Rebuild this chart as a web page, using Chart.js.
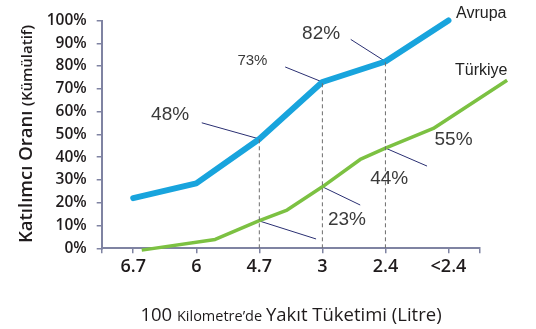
<!DOCTYPE html>
<html>
<head>
<meta charset="utf-8">
<script src="https://cdn.jsdelivr.net/npm/chart.js@4.4.0/dist/chart.umd.min.js"></script>
<style>
  html, body { margin: 0; padding: 0; background: #fff; }
  #wrap { width: 536px; height: 329px; }
</style>
</head>
<body>
<div id="wrap"><canvas id="myChart"></canvas></div>
<script>
// fuel use categories (litres per 100 km), left to right
const fuelLabels = ["6.7", "6", "4.7", "3", "2.4", "<2.4"];

// Avrupa: one point per category
const europeX = [0, 1, 2, 3, 4, 5];
const europeValues = [22, 28.5, 48, 73, 82, 100];

// Türkiye: sampled between categories
const turkeyX = [0.135, 1.3, 1.99, 2.44, 3.0, 3.6, 4.0, 4.76, 5.93];
const turkeyValues = [-0.8, 3.9, 12, 16.8, 27, 39, 44, 52.6, 73.8];

// dashed drop lines under these Avrupa points
const dropIndex = [2, 3, 4];

// callout texts and where they sit (x in category units, y in %)
const calloutTexts = ["48%", "73%", "82%", "55%", "44%", "23%"];
const calloutX = [0.585, 1.89, 2.98, 5.08, 4.06, 3.39];
const calloutY = [58.5, 82.1, 94.3, 47.5, 30.7, 12.4];
const calloutSize = [19, 15, 19, 19, 19, 19];

// leader lines from a callout to its point
const leaderX1 = [1.087, 2.41, 3.45, 4.0, 3.0, 2.0];
const leaderY1 = [55.1, 79.6, 91.7, 44, 27, 12];
const leaderX2 = [2.0, 3.0, 4.0, 4.66, 3.6, 2.9];
const leaderY2 = [48, 73, 82, 36.1, 19.0, 4.1];

const seriesNames = ["Avrupa", "Türkiye"];
const seriesNameX = [5.52, 5.52];
const seriesNameY = [103.1, 77.9];

const FONT = "'Open Sans', 'Noto Sans', sans-serif";
const LABEL_FONT = "'Liberation Sans', Arial, sans-serif";
const AXIS = "#7f83a2";
const INK = "#1f1b1c";

const toPoints = (xs, ys) => xs.map((v, i) => ({ x: v, y: ys[i] }));

const datasets = [];

dropIndex.forEach((i) => {
  datasets.push({
    data: [{ x: europeX[i], y: 0 }, { x: europeX[i], y: europeValues[i] }],
    borderColor: "#6d6d6d",
    borderWidth: 1,
    borderDash: [4, 3],
    pointRadius: 0,
  });
});

datasets.push({
  label: "Türkiye",
  data: toPoints(turkeyX, turkeyValues),
  borderColor: "#7cc142",
  borderWidth: 3.5,
  pointRadius: 0,
  borderJoinStyle: "round",
  clip: false,
});

datasets.push({
  label: "Avrupa",
  data: toPoints(europeX, europeValues),
  borderColor: "#18a4dd",
  borderWidth: 6,
  pointRadius: 0,
  borderJoinStyle: "round",
  borderCapStyle: "round",
  clip: false,
});

leaderX1.forEach((x1, i) => {
  datasets.push({
    data: [{ x: x1, y: leaderY1[i] }, { x: leaderX2[i], y: leaderY2[i] }],
    borderColor: "#2a2f72",
    borderWidth: 1,
    pointRadius: 0,
    clip: false,
  });
});

const textLayer = {
  id: "textLayer",
  afterDatasetsDraw(chart) {
    const { ctx, scales } = chart;
    const x = scales.x;
    const y = scales.y;
    ctx.save();
    ctx.textAlign = "center";
    ctx.textBaseline = "middle";

    // callout values
    ctx.fillStyle = "#3a3a3a";
    calloutTexts.forEach((t, i) => {
      ctx.font = `${calloutSize[i]}px ${LABEL_FONT}`;
      ctx.fillText(t, x.getPixelForValue(calloutX[i]), y.getPixelForValue(calloutY[i]));
    });

    // series names
    ctx.fillStyle = "#222";
    ctx.font = `16px ${LABEL_FONT}`;
    seriesNames.forEach((t, i) => {
      ctx.fillText(t, x.getPixelForValue(seriesNameX[i]), y.getPixelForValue(seriesNameY[i]));
    });

    // y title, two sizes
    ctx.save();
    ctx.translate(25, 134);
    ctx.rotate(-Math.PI / 2);
    const big = `600 18.5px ${FONT}`;
    const small = `600 15px ${FONT}`;
    const partA = "Katılımcı Oranı ";
    const partB = "(Kümülatif)";
    ctx.font = big;
    const wa = ctx.measureText(partA).width;
    ctx.font = small;
    const wb = ctx.measureText(partB).width;
    const cx = -(wa + wb) / 2;
    ctx.textAlign = "left";
    ctx.textBaseline = "alphabetic";
    ctx.fillStyle = INK;
    ctx.font = big;
    ctx.fillText(partA, cx, 7);
    ctx.font = small;
    ctx.fillText(partB, cx + wa, 7);
    ctx.restore();

    // x title, mixed sizes
    const parts = [
      ["100 ", `500 18.5px ${FONT}`],
      ["Kilometre’de ", `500 14.5px ${FONT}`],
      ["Yakıt Tüketimi (Litre)", `500 18.5px ${FONT}`],
    ];
    let total = 0;
    parts.forEach((p) => {
      ctx.font = p[1];
      total += ctx.measureText(p[0]).width;
    });
    let px = 291 - total / 2;
    ctx.textAlign = "left";
    ctx.textBaseline = "alphabetic";
    ctx.fillStyle = INK;
    parts.forEach((p) => {
      ctx.font = p[1];
      ctx.fillText(p[0], px, 321);
      px += ctx.measureText(p[0]).width;
    });

    ctx.restore();
  },
};

new Chart(document.getElementById("myChart"), {
  type: "line",
  data: { datasets },
  options: {
    responsive: true,
    maintainAspectRatio: false,
    animation: false,
    layout: { padding: { left: 0, right: 56, top: 20.5, bottom: 40.7 } },
    plugins: {
      legend: { display: false },
      tooltip: { enabled: false },
    },
    elements: { line: { tension: 0 } },
    scales: {
      x: {
        type: "linear",
        min: -0.5,
        max: 5.5,
        afterBuildTicks: (scale) => {
          scale.ticks = [-0.5, 0, 1, 2, 3, 4, 5, 5.5].map((v) => ({ value: v }));
        },
        afterFit: (scale) => {
          scale.height = 40;
        },
        ticks: {
          autoSkip: false,
          maxRotation: 0,
          padding: 3,
          color: INK,
          font: { family: FONT, size: 18, weight: "600" },
          callback: (v) => (Number.isInteger(v) ? fuelLabels[v] : ""),
        },
        grid: { drawOnChartArea: false, tickLength: 5, color: AXIS, lineWidth: 1.5 },
        border: { color: AXIS, width: 2 },
      },
      y: {
        min: 0,
        max: 100,
        afterFit: (scale) => {
          scale.width = 101.7;
        },
        ticks: {
          stepSize: 10,
          padding: 10,
          color: INK,
          font: { family: FONT, size: 15.5, weight: "600" },
          callback: (v) => v + "%",
        },
        grid: { drawOnChartArea: false, tickLength: 5, color: AXIS, lineWidth: 1.5 },
        border: { color: AXIS, width: 2 },
      },
    },
  },
  plugins: [textLayer],
});
</script>
</body>
</html>
